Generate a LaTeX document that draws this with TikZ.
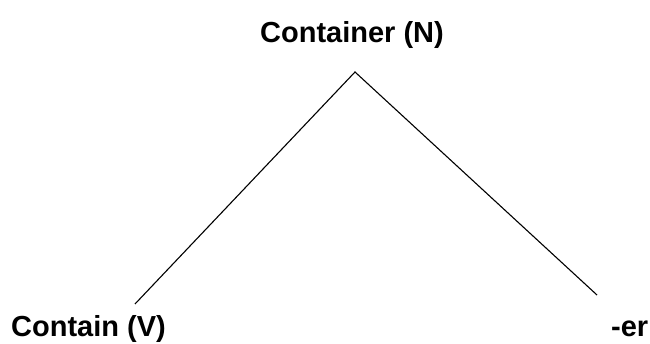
\documentclass[tikz,border=0pt]{standalone}
\usepackage{fontspec}
\setmainfont{Liberation Sans}
\begin{document}
\begin{tikzpicture}[x=1pt,y=-1pt,
  lbl/.style={font=\fontsize{29}{32}\selectfont\bfseries, inner sep=0pt},
  branch/.style={line width=1.1pt, black}]
\useasboundingbox (0,0) rectangle (650,344);
\node[lbl, anchor=base] (top) at (352,43) {Container (N)};
\node[lbl, anchor=base west] (left) at (11,337) {Contain (V)};
\node[lbl, anchor=base west] (right) at (611,337) {-er};
\coordinate (apex) at (355,72);
\coordinate (lend) at (135,304);
\coordinate (rend) at (597,295);
\draw[branch] (lend) -- (apex) -- (rend);
\end{tikzpicture}
\end{document}
